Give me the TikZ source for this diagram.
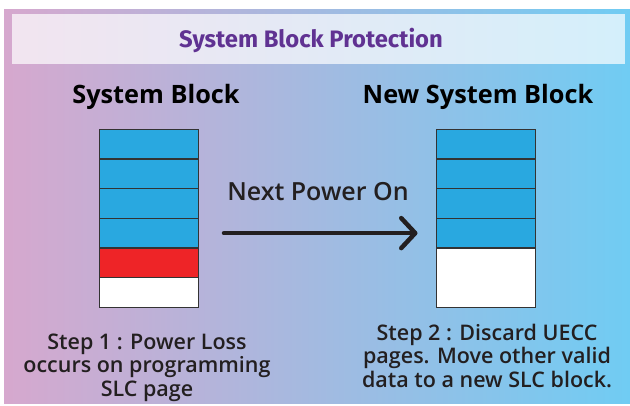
\documentclass[tikz,border=0pt]{standalone}
\usepackage{fontspec}
\setmainfont{Open Sans}
\IfFontExistsTF{Open Sans SemiBold}{\newfontfamily\bodyfont{Open Sans SemiBold}}{%
  \IfFontExistsTF{Open Sans Semibold}{\newfontfamily\bodyfont{Open Sans Semibold}}{%
    \IfFontExistsTF{OpenSans-Semibold.otf}{\newfontfamily\bodyfont{OpenSans-Semibold.otf}}{%
      \IfFontExistsTF{OpenSans-SemiBold.ttf}{\newfontfamily\bodyfont{OpenSans-SemiBold.ttf}}{%
        \newfontfamily\bodyfont{Open Sans}}}}}
\newfontfamily\titlefont{Fira Sans}
\usepackage{tikz}
\usetikzlibrary{arrows.meta}

\definecolor{bgpink}{RGB}{214,168,206}
\definecolor{bgmid}{RGB}{178,184,222}
\definecolor{bgblue}{RGB}{112,204,243}
\definecolor{titlepurple}{RGB}{96,50,146}
\definecolor{cellblue}{RGB}{41,168,224}
\definecolor{cellred}{RGB}{238,36,39}
\definecolor{textdark}{RGB}{35,31,32}

\tikzset{
    cell/.style={draw=black!80, line width=1pt, minimum width=99pt, minimum height=29.6pt,
                 inner sep=0pt, outer sep=0pt},
    good/.style={cell, fill=cellblue},
    bad/.style={cell, fill=cellred},
    free/.style={cell, fill=white},
    head/.style={anchor=base, font=\bfseries\fontsize{25.3}{27}\selectfont, text=black},
    steptext/.style={anchor=base, align=center, text=textdark,
                     font=\bodyfont\fontsize{21.5}{23.7}\selectfont},
}

\begin{document}
\begin{tikzpicture}[x=1pt, y=-1pt]
            \useasboundingbox (0,0) rectangle (630,405);

            % background
            \shade[left color=bgpink, middle color=bgmid, right color=bgblue, shading angle=90]
                (4,9) rectangle (630,403);
            \fill[white, fill opacity=0.7] (12,14) rectangle (625,64);
            \node[anchor=base, text=titlepurple, font=\titlefont\bfseries\fontsize{23.8}{26}\selectfont]
                (title) at (311,47.7) {System Block Protection};

            % headings
            \node[head] (lhead) at (156,103) {System Block};
            \node[head] (rhead) at (478,103) {New System Block};

            % Left stack
            \node[good] (l1) at (148.5,144.1) {};
            \node[good] (l2) at (148.5,173.8) {};
            \node[good] (l3) at (148.5,203.4) {};
            \node[good] (l4) at (148.5,233.1) {};
            \node[bad]  (l5) at (148.5,262.8) {};
            \node[free] (l6) at (148.5,292.4) {};

            % Right stack
            \node[good] (r1) at (486,144.1) {};
            \node[good] (r2) at (486,173.8) {};
            \node[good] (r3) at (486,203.4) {};
            \node[good] (r4) at (486,233.1) {};
            \node[free, minimum height=59.3pt, line width=1.5pt] (r5) at (486,277.6) {};

            % arrow
            \node[anchor=base, text=textdark, font=\bodyfont\fontsize{25}{27}\selectfont]
                (next) at (318,200.7) {Next Power On};
            \draw[line width=4.5pt, line cap=round, draw=textdark,
                  -{Straight Barb[length=14pt, width=30pt, round]}]
                ([xshift=26pt]l4.east) -- ([xshift=-19pt]r4.west);

            % steps (base = last line)
            \node[steptext] (lstep) at (147,396.4) {Step 1 : Power Loss\\occurs on programming\\SLC page};
            \node[steptext] (rstep) at (487,387.4) {Step 2 : Discard UECC\\pages. Move other valid\\data to a new SLC block.};
\end{tikzpicture}
\end{document}
